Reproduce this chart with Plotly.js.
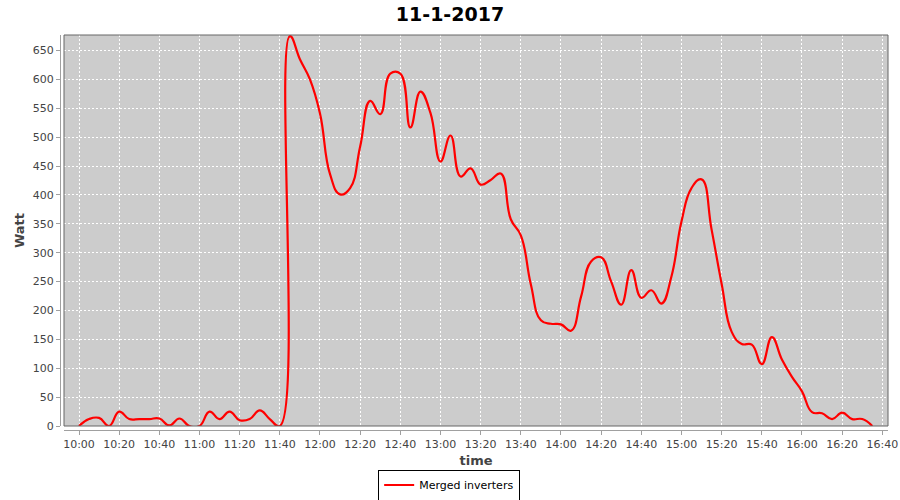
<!DOCTYPE html>
<html>
<head>
<meta charset="utf-8">
<script src="https://cdn.plot.ly/plotly-3.0.1.min.js"></script>
<style>html,body{margin:0;padding:0;background:#fff;}#chart{width:900px;height:500px;}</style>
</head>
<body>
<div id="chart"></div>
<script>
// Data (5-minute samples, 11 Jan 2017)
const day = '2017-01-11';
const times = [
 '10:00','10:05','10:10','10:15','10:20','10:25','10:30','10:35','10:40','10:45','10:50','10:55',
 '11:00','11:05','11:10','11:15','11:20','11:25','11:30','11:35','11:40','11:45','11:50','11:55',
 '12:00','12:05','12:10','12:15','12:20','12:25','12:30','12:35','12:40','12:45','12:50','12:55',
 '13:00','13:05','13:10','13:15','13:20','13:25','13:30','13:35','13:40','13:45','13:50','13:55',
 '14:00','14:05','14:10','14:15','14:20','14:25','14:30','14:35','14:40','14:45','14:50','14:55',
 '15:00','15:05','15:10','15:15','15:20','15:25','15:30','15:35','15:40','15:45','15:50','15:55',
 '16:00','16:05','16:10','16:15','16:20','16:25','16:30','16:35'
];
const watt = [
 0, 12, 14, 0, 25, 12, 12, 12, 13, 1, 13, 0,
 0, 25, 12, 25, 10, 12, 27, 12, 0, 675, 635, 600,
 541, 436, 401, 412, 484, 563, 540, 610, 610, 517, 579, 542,
 458, 503, 432, 446, 418, 426, 437, 358, 330, 245, 183, 177,
 176, 165, 224, 285, 292, 250, 210, 270, 222, 235, 212, 259,
 354, 412, 427, 340, 246, 163, 142, 141, 107, 154, 115, 85,
 60, 24, 22, 12, 23, 12, 12, 0
];
const seriesName = 'Merged inverters';
const chartTitle = '11-1-2017';
const xTitle = 'time';
const yTitle = 'Watt';

const FONT = 'DejaVu Sans, Verdana, sans-serif';
const xDom0 = 4/828, yDom0 = 4/395;

const trace = {
  x: times.map(t => day + ' ' + t),
  y: watt,
  type: 'scatter',
  mode: 'lines',
  name: seriesName,
  line: {color: '#ff0000', width: 2.2, shape: 'spline', smoothing: 1.3},
  showlegend: true
};

const layout = {
  width: 900, height: 500,
  paper_bgcolor: '#ffffff',
  plot_bgcolor: '#cccccc',
  margin: {l: 60, r: 12, t: 35, b: 70, pad: 0, autoexpand: false},
  title: {
    text: '<b>' + chartTitle + '</b>',
    font: {family: FONT, size: 19, color: '#000000'},
    x: 0.5, xref: 'container', xanchor: 'center',
    y: 1 - 14/500, yref: 'container', yanchor: 'middle'
  },
  xaxis: {
    type: 'date',
    range: [day + ' 09:52:32', day + ' 16:42:50'],
    domain: [xDom0, 1],
    anchor: 'free', position: 0,
    automargin: false,
    tick0: day + ' 10:00', dtick: 20*60*1000,
    tickformat: '%H:%M',
    ticks: 'outside', ticklen: 4, tickcolor: '#a0a0a0', tickwidth: 1,
    showline: true, linecolor: '#a0a0a0', linewidth: 1,
    showgrid: true, gridcolor: '#ffffff', griddash: '2px,2px', gridwidth: 1,
    zeroline: false,
    tickfont: {family: FONT, size: 11, color: '#444444'},
    title: {text: '<b>' + xTitle + '</b>', font: {family: FONT, size: 13, color: '#444444'}, standoff: 5}
  },
  yaxis: {
    range: [0, 677],
    domain: [yDom0, 1],
    anchor: 'free', position: 0,
    automargin: false,
    tick0: 0, dtick: 50,
    ticks: 'outside', ticklen: 4, tickcolor: '#a0a0a0', tickwidth: 1,
    showline: true, linecolor: '#a0a0a0', linewidth: 1,
    showgrid: true, gridcolor: '#ffffff', griddash: '2px,2px', gridwidth: 1,
    zeroline: false,
    tickfont: {family: FONT, size: 11, color: '#444444'},
    title: {text: '<b>' + yTitle + '</b>', font: {family: FONT, size: 13, color: '#444444'}}
  },
  shapes: [{
    type: 'rect', xref: 'paper', yref: 'paper',
    x0: xDom0, x1: 1, y0: yDom0, y1: 1,
    line: {color: '#666666', width: 1}, fillcolor: 'rgba(0,0,0,0)', layer: 'above'
  }],
  showlegend: true,
  legend: {
    orientation: 'h',
    x: 0.47, xanchor: 'center',
    y: (430 - 485) / 395, yanchor: 'middle',
    bordercolor: '#000000', borderwidth: 1, bgcolor: '#ffffff',
    font: {family: FONT, size: 11, color: '#000000'}
  },
  font: {family: FONT}
};

Plotly.newPlot('chart', [trace], layout, {staticPlot: true, displayModeBar: false});
</script>
</body>
</html>
